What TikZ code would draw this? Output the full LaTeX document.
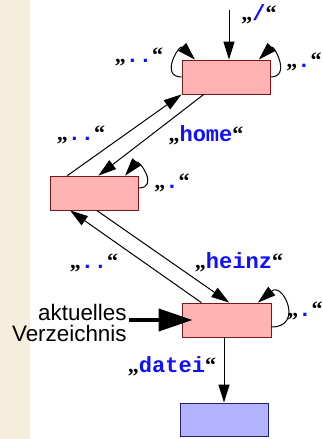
\documentclass[tikz,border=0pt]{standalone}
\usepackage{fontspec}
\setmainfont{Liberation Serif}
\setsansfont{Liberation Sans}
\setmonofont{Liberation Mono}
\usetikzlibrary{arrows.meta,calc}
\definecolor{rosa}{HTML}{FFB3B3}
\definecolor{dunkelrot}{HTML}{7A1818}
\definecolor{hellblau}{HTML}{B3B3FF}
\definecolor{dunkelblau}{HTML}{20206E}
\definecolor{beige}{HTML}{F5EEDD}
\definecolor{namenblau}{HTML}{1010FF}
\newcommand{\dname}[1]{{\bfseries„{\ttfamily\color{namenblau}#1}“}}

\begin{document}
\begin{tikzpicture}[x=0.5pt,y=0.5pt,font=\fontsize{11}{13}\selectfont,
  verz/.style={draw=dunkelrot,fill=rosa,minimum width=44pt,minimum height=17pt,inner sep=0pt},
  pfeil/.style={-{Triangle[length=9pt,width=5.5pt]},line width=0.5pt},
  schleife/.style={pfeil,looseness=2.6}]
\useasboundingbox (0,0) rectangle (322,439);
\fill[beige] (0,0) rectangle (30,439);

% Verzeichnisse
\node[verz] (wurzel) at (226,362) {};
\node[verz] (home) at (94,246) {};
\node[verz,minimum width=44.5pt] (heinz) at (226.5,119) {};
\node[draw=dunkelblau,fill=hellblau,minimum width=44pt,minimum height=16.5pt,inner sep=0pt] (datei) at (224,19.5) {};
\coordinate (start) at (229,429);

% Kanten
\draw[pfeil] (start) -- (start |- wurzel.north);
\draw[pfeil] ($(home.north west)!.2!(home.north east)$) -- (wurzel.south west);
\draw[pfeil] ($(wurzel.south west)!.25!(wurzel.south east)$) -- ($(home.north west)!.55!(home.north east)$);
\draw[pfeil] ($(heinz.north west)!.22!(heinz.north east)$) -- ($(home.south west)!.23!(home.south east)$);
\draw[pfeil] ($(home.south west)!.53!(home.south east)$) -- ($(heinz.north west)!.53!(heinz.north east)$);
\draw[pfeil] (datei.north |- heinz.south) -- (datei.north);

% Schleifen
\draw[schleife] (wurzel.west) to[out=180,in=135] ($(wurzel.north west)!.15!(wurzel.north east)$);
\draw[schleife] (wurzel.east) to[out=0,in=45] ($(wurzel.north west)!.87!(wurzel.north east)$);
\draw[schleife,looseness=3] ([yshift=2.5pt]home.east) to[out=0,in=50] ($(home.north west)!.85!(home.north east)$);
\draw[schleife,looseness=3] ([yshift=-3.5pt]heinz.east) to[out=0,in=40] ($(heinz.north west)!.85!(heinz.north east)$);

% Namen
\node (n1) at (259,425) {\dname{/}};
\node (n2) at (139,382) {\dname{..}};
\node (n3) at (304,377) {\dname{.}};
\node (n4) at (81,304) {\dname{..}};
\node (n5) at (206,304) {\dname{home}};
\node (n6) at (172,256) {\dname{.}};
\node (n7) at (94,176) {\dname{..}};
\node (n8) at (239,177) {\dname{heinz}};
\node (n9) at (305,128) {\dname{.}};
\node (n10) at (172,73) {\dname{datei}};

\node[anchor=east,align=right,inner sep=1pt,font=\sffamily\fontsize{11.2}{10.3}\selectfont] (aktuell) at (129,116) {aktuelles\\Verzeichnis};
\draw[-{Triangle[length=17pt,width=11pt]},line width=2pt] (aktuell.east |- heinz.west) -- ([xshift=5.5pt]heinz.west);
\end{tikzpicture}
\end{document}
